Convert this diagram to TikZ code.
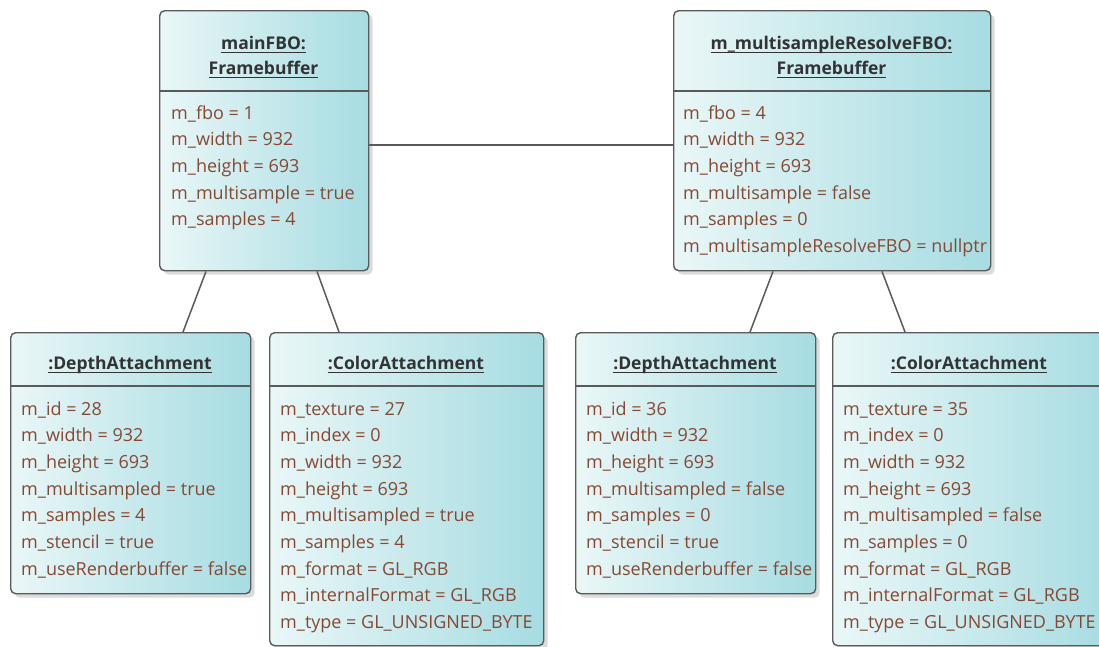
\documentclass[tikz,border=0pt]{standalone}
\usepackage{fontspec}
\setmainfont{Open Sans}
\usetikzlibrary{shadows}

\definecolor{attrtext}{HTML}{874833}
\definecolor{titletext}{HTML}{333333}
\definecolor{edge}{HTML}{5A5A5A}
\definecolor{fillL}{HTML}{EAF7F7}
\definecolor{fillR}{HTML}{A6DCE2}

% underline placed at a fixed depth below the baseline
\newcommand{\ulin}[1]{\setbox0=\hbox{#1}\leavevmode\rlap{\copy0}\rule[-4pt]{\wd0}{1.2pt}}
% one attribute per line, each a named node
\newcommand{\attrlines}[4]{%
  \foreach \txt [count=\k from 0] in {#4} {\node[attr] (#1-\k) at (#2,#3+26.7*\k) {\txt};}}

\tikzset{
  objbox/.style={draw=edge, line width=1.4pt, rounded corners=5pt,
    left color=fillL, right color=fillR, anchor=north west, inner sep=0pt,
    drop shadow={shadow xshift=4pt, shadow yshift=-4pt, fill=black!28}},
  divider/.style={draw=edge, line width=1.2pt},
  link/.style={draw=edge, line width=1.5pt},
  title/.style={anchor=base, inner sep=0pt, font=\fontsize{17.5}{20}\selectfont\bfseries, text=titletext},
  attr/.style={anchor=base west, inner sep=0pt, font=\fontsize{18}{20}\selectfont, text=attrtext},
}

\begin{document}
\begin{tikzpicture}[x=1pt, y=-1pt]
\useasboundingbox (0,0) rectangle (1099,646);
\clip (0,0) rectangle (1099,646);

% --- framebuffer objects ---
\node[objbox, minimum width=209pt, minimum height=260pt] (main) at (159,10) {};
\draw[divider] (main.west |- 0,91) -- (main.east |- 0,91);
\node[title] (main-t1) at (263.5,49) {\ulin{mainFBO:}};
\node[title] (main-t2) at (263.5,74) {\ulin{Framebuffer}};
\attrlines{main}{171}{119}{m\_fbo = 1, m\_width = 932, m\_height = 693, m\_multisample = true, m\_samples = 4}

\node[objbox, minimum width=317pt, minimum height=260pt] (ms) at (673,10) {};
\draw[divider] (ms.west |- 0,91) -- (ms.east |- 0,91);
\node[title] (ms-t1) at (831.5,49) {\ulin{m\_multisampleResolveFBO:}};
\node[title] (ms-t2) at (831.5,74) {\ulin{Framebuffer}};
\attrlines{ms}{683}{119}{m\_fbo = 4, m\_width = 932, m\_height = 693, m\_multisample = false, m\_samples = 0, m\_multisampleResolveFBO = nullptr}

% --- attachments ---
\node[objbox, minimum width=240pt, minimum height=261pt] (d1) at (10,332) {};
\draw[divider] (d1.west |- 0,386) -- (d1.east |- 0,386);
\node[title] (d1-t) at (130,369) {\ulin{:DepthAttachment}};
\attrlines{d1}{21}{415}{m\_id = 28, m\_width = 932, m\_height = 693, m\_multisampled = true, m\_samples = 4, m\_stencil = true, m\_useRenderbuffer = false}

\node[objbox, minimum width=274pt, minimum height=313pt] (c1) at (269,332) {};
\draw[divider] (c1.west |- 0,386) -- (c1.east |- 0,386);
\node[title] (c1-t) at (406,369) {\ulin{:ColorAttachment}};
\attrlines{c1}{280}{415}{m\_texture = 27, m\_index = 0, m\_width = 932, m\_height = 693, m\_multisampled = true, m\_samples = 4, m\_format = GL\_RGB, m\_internalFormat = GL\_RGB, m\_type = GL\_UNSIGNED\_BYTE}

\node[objbox, minimum width=240pt, minimum height=261pt] (d2) at (575,332) {};
\draw[divider] (d2.west |- 0,386) -- (d2.east |- 0,386);
\node[title] (d2-t) at (695,369) {\ulin{:DepthAttachment}};
\attrlines{d2}{586}{415}{m\_id = 36, m\_width = 932, m\_height = 693, m\_multisampled = false, m\_samples = 0, m\_stencil = true, m\_useRenderbuffer = false}

\node[objbox, minimum width=280pt, minimum height=313pt] (c2) at (832,332) {};
\draw[divider] (c2.west |- 0,386) -- (c2.east |- 0,386);
\node[title] (c2-t) at (969,369) {\ulin{:ColorAttachment}};
\attrlines{c2}{843}{415}{m\_texture = 35, m\_index = 0, m\_width = 932, m\_height = 693, m\_multisampled = false, m\_samples = 0, m\_format = GL\_RGB, m\_internalFormat = GL\_RGB, m\_type = GL\_UNSIGNED\_BYTE}

% --- links ---
\draw[link] (main.east |- 0,145) -- (ms.west |- 0,145);
\draw[link] (main.south -| 206,0) -- (d1.north -| 183,0);
\draw[link] (main.south -| 317,0) -- (c1.north -| 339,0);
\draw[link] (ms.south -| 773,0) -- (d2.north -| 750,0);
\draw[link] (ms.south -| 882,0) -- (c2.north -| 905,0);
\end{tikzpicture}
\end{document}
